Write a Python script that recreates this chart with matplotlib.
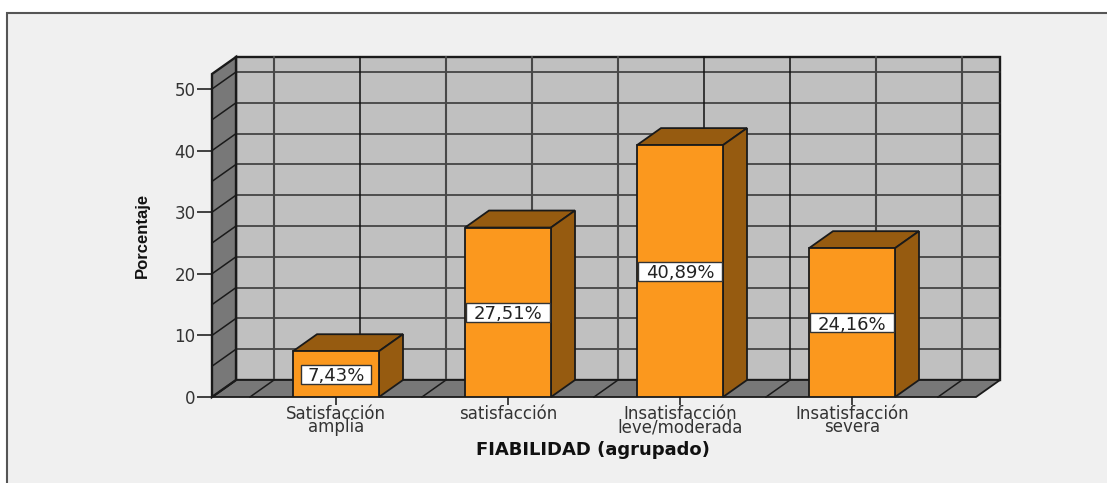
#!/usr/bin/env python3
# -*- coding: utf-8 -*-
"""Gráfico de barras 3D falso (estilo SPSS): FIABILIDAD (agrupado)."""
import matplotlib
matplotlib.use("Agg")
import matplotlib.pyplot as plt
from matplotlib.patches import Polygon, Rectangle

CATEGORIES = ["Satisfacción\namplia", "satisfacción",
              "Insatisfacción\nleve/moderada", "Insatisfacción\nsevera"]
VALUES = [7.43, 27.51, 40.89, 24.16]
VALUE_LABELS = ["7,43%", "27,51%", "40,89%", "24,16%"]
YTICKS = [0, 10, 20, 30, 40, 50]
YGRID = [0, 5, 10, 15, 20, 25, 30, 35, 40, 45, 50]
XGRID = [-0.5, 0, 0.5, 1, 1.5, 2, 2.5, 3, 3.5]
XLABEL = "FIABILIDAD (agrupado)"
YLABEL = "Porcentaje"

W, H = 1107, 483
BG, WALL, SIDE = "#f0f0f0", "#c0c0c0", "#787878"
ORANGE, BROWN = "#fb981e", "#965b10"
EDGE = "#1a1a1a"
TXT = "#333333"

# plano frontal en píxeles: x 212..976, y 397..74
fig = plt.figure(figsize=(W / 100, H / 100), dpi=100, facecolor="white")
ax = fig.add_axes([212 / W, 1 - 397 / H, 764 / W, 323 / H])
fig.patches.append(Rectangle((7 / W, -0.1), 1.1, 1.1 - 13 / H, transform=fig.transFigure,
                             facecolor=BG, edgecolor="#555555", linewidth=1.5, zorder=-5))
ax.patch.set_visible(False)
for s in ax.spines.values():
    s.set_visible(False)

PX_X = 172.0                     # píxeles por categoría
PX_Y = 6.16                      # píxeles por unidad de porcentaje
ax.set_xlim(-124 / PX_X, 640 / PX_X)
ax.set_ylim(0, 323 / PX_Y)
DX, DY = 24 / PX_X, 17 / PX_Y    # desplazamiento de profundidad
BAR_W = 0.5
x0, x1 = ax.get_xlim()
ytop = ax.get_ylim()[1]


def poly(pts, fc, z, lw=1.3):
    ax.add_patch(Polygon(pts, closed=True, facecolor=fc, edgecolor=EDGE, linewidth=lw,
                         zorder=z, clip_on=False, joinstyle="miter"))


# pared del fondo, suelo y pared izquierda
poly([(x0 + DX, DY), (x1 + DX, DY), (x1 + DX, ytop + DY), (x0 + DX, ytop + DY)], WALL, 1, 1.7)
for g in YGRID:
    ax.plot([x0 + DX, x1 + DX], [g + DY, g + DY], color="#2e2e2e", lw=1.1, zorder=2, clip_on=False)
for g in XGRID:
    dark = g in (0, 2, 2.5)      # estas tres salen casi negras en el original
    ax.plot([g + DX, g + DX], [DY, ytop + DY], color="#111111" if dark else "#484848",
            lw=1.1 if dark else 1.5, zorder=2, clip_on=False)
poly([(x0, 0), (x1, 0), (x1 + DX, DY), (x0 + DX, DY)], SIDE, 3)
poly([(x0, 0), (x0 + DX, DY), (x0 + DX, ytop + DY), (x0, ytop)], SIDE, 3, 1.7)
for g in YGRID:
    ax.plot([x0, x0 + DX], [g, g + DY], color=EDGE, lw=1.1, zorder=4, clip_on=False)
for g in XGRID:
    ax.plot([g, g + DX], [0, DY], color=EDGE, lw=1.1, zorder=4, clip_on=False)

# barras, de atrás hacia delante
for i, v in enumerate(VALUES):
    l, r = i - BAR_W / 2, i + BAR_W / 2
    poly([(l, v), (r, v), (r + DX, v + DY), (l + DX, v + DY)], BROWN, 5)
    poly([(r, 0), (r + DX, DY), (r + DX, v + DY), (r, v)], BROWN, 5)
    ax.bar(i, v, width=BAR_W, color=ORANGE, edgecolor=EDGE, linewidth=1.3, zorder=6)
    # caja de la etiqueta: 14 px por carácter de ancho, 19 px de alto
    bw, bh = 14 * len(VALUE_LABELS[i]) / PX_X, 19 / PX_Y
    ax.add_patch(Rectangle((i - bw / 2, v / 2 - bh / 2), bw, bh, facecolor="white",
                           edgecolor="#333333", linewidth=1.0, zorder=7))
    ax.text(i, v / 2, VALUE_LABELS[i], ha="center", va="center_baseline", fontsize=13,
            color="#222222", zorder=8)

ax.set_xticks(range(len(CATEGORIES)))
ax.set_xticklabels(CATEGORIES, fontsize=12, color=TXT, linespacing=0.68)
ax.set_yticks(YTICKS)
ax.tick_params(axis="x", length=5.5, width=1.3, color=TXT, pad=0)
ax.tick_params(axis="y", length=10.8, width=1.3, color=TXT, pad=1, labelsize=12,
               labelcolor=TXT)

fig.text(593 / W, 1 - 450 / H, XLABEL, ha="center", va="center", fontsize=13,
         fontweight="bold", color="#111111")
fig.text(142 / W, 1 - 235 / H, YLABEL, ha="center", va="center", rotation=90, fontsize=12,
         fontweight="bold", color="#111111", family=["Liberation Sans", "DejaVu Sans"])

fig.savefig("out.png", dpi=100, facecolor="white")
plt.close(fig)
